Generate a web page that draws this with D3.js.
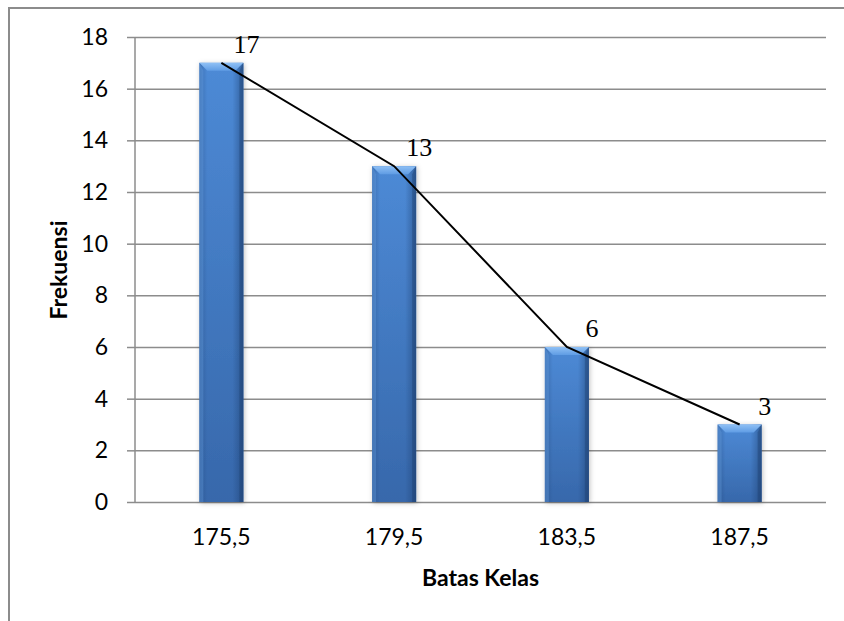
<!DOCTYPE html>
<html>
<head>
<meta charset="utf-8">
<script src="https://cdn.jsdelivr.net/npm/d3@7"></script>
<style>
  html, body { margin: 0; padding: 0; background: #fff; }
  svg { display: block; }
</style>
</head>
<body>
<svg id="chart" width="844" height="621"></svg>
<script>
// Frequency per class boundary
const categories = ["175,5", "179,5", "183,5", "187,5"];
const frequencies = [17, 13, 6, 3];
const yTicks = [0, 2, 4, 6, 8, 10, 12, 14, 16, 18];
const xTitle = "Batas Kelas";
const yTitle = "Frekuensi";

const svg = d3.select("#chart");
const W = 844, H = 621;
const plot = { left: 135, right: 826, top: 37, bottom: 502 };

const x = d3.scaleBand().domain(categories).range([plot.left, plot.right]).paddingInner(0.745).paddingOuter(0.3725);
const y = d3.scaleLinear().domain([0, 18]).range([plot.bottom, plot.top]);

// Outer chart frame
svg.append("rect")
  .attr("x", 9).attr("y", 8).attr("width", 900).attr("height", 700)
  .attr("fill", "#fff").attr("stroke", "#8c8c8c").attr("stroke-width", 2);

const defs = svg.append("defs");
const vGrad = defs.append("linearGradient").attr("id", "barFill").attr("x1", 0).attr("x2", 0).attr("y1", 0).attr("y2", 1);
vGrad.append("stop").attr("offset", "0%").attr("stop-color", "#4d8ad6");
vGrad.append("stop").attr("offset", "100%").attr("stop-color", "#3768ab");
const hGrad = defs.append("linearGradient").attr("id", "barEdge").attr("x1", 0).attr("x2", 1).attr("y1", 0).attr("y2", 0);
hGrad.append("stop").attr("offset", "0%").attr("stop-color", "#1d3f70").attr("stop-opacity", 0.35);
hGrad.append("stop").attr("offset", "18%").attr("stop-color", "#1d3f70").attr("stop-opacity", 0.0);
hGrad.append("stop").attr("offset", "75%").attr("stop-color", "#1d3f70").attr("stop-opacity", 0.0);
hGrad.append("stop").attr("offset", "100%").attr("stop-color", "#1d3f70").attr("stop-opacity", 0.55);
const capGrad = defs.append("linearGradient").attr("id", "capFill").attr("x1", 0).attr("x2", 0).attr("y1", 0).attr("y2", 1);
capGrad.append("stop").attr("offset", "0%").attr("stop-color", "#8fc0f5");
capGrad.append("stop").attr("offset", "100%").attr("stop-color", "#5f9ce4");
const shadow = defs.append("filter").attr("id", "barShadow").attr("x", "-30%").attr("y", "-10%").attr("width", "160%").attr("height", "120%");
shadow.append("feDropShadow").attr("dx", 1).attr("dy", 1).attr("stdDeviation", 2.5).attr("flood-color", "#000").attr("flood-opacity", 0.25);

// Horizontal gridlines
const axisY = d3.axisLeft(y).tickValues(yTicks).tickSize(8).tickPadding(19).tickFormat(d3.format("d"));
const gY = svg.append("g").attr("transform", `translate(${plot.left},0)`).call(axisY);
gY.select(".domain").attr("stroke", "#8c8c8c").attr("stroke-width", 1.5).attr("d", `M0,${plot.top}V${plot.bottom}`);
gY.selectAll(".tick line").attr("stroke", "#8c8c8c").attr("stroke-width", 1.5);
gY.selectAll(".tick").append("line")
  .attr("x1", 0).attr("x2", plot.right - plot.left)
  .attr("stroke", "#8c8c8c").attr("stroke-width", 1.5);
gY.selectAll(".tick text")
  .attr("font-family", "Lato, 'Open Sans', sans-serif").attr("font-size", 23).attr("fill", "#000");

// Category axis
const axisX = d3.axisBottom(x).tickSize(0).tickPadding(27);
const gX = svg.append("g").attr("transform", `translate(0,${plot.bottom})`).call(axisX);
gX.select(".domain").remove();
gX.selectAll(".tick text")
  .attr("font-family", "Lato, 'Open Sans', sans-serif").attr("font-size", 23).attr("fill", "#000");

// Bevelled bars
const bev = 8;
const bars = svg.append("g").selectAll("g").data(frequencies).join("g");
bars.each(function(v, i) {
  const g = d3.select(this);
  const x0 = x(categories[i]), bw = x.bandwidth(), x1 = x0 + bw;
  const yt = y(v), yb = y(0);
  g.append("rect").attr("x", x0).attr("y", yt).attr("width", bw).attr("height", yb - yt)
    .attr("fill", "url(#barFill)").attr("filter", "url(#barShadow)");
  g.append("rect").attr("x", x0).attr("y", yt).attr("width", bw).attr("height", yb - yt)
    .attr("fill", "url(#barEdge)");
  g.append("polygon")
    .attr("points", [[x0, yt], [x1, yt], [x1 - bev, yt + bev], [x0 + bev, yt + bev]].map(p => p.join(",")).join(" "))
    .attr("fill", "url(#capFill)");
  g.append("polygon")
    .attr("points", [[x0, yt], [x0 + bev * 0.5, yt + bev], [x0 + bev * 0.5, yb], [x0, yb]].map(p => p.join(",")).join(" "))
    .attr("fill", "#6aa3e6").attr("opacity", 0.35);
  g.append("polygon")
    .attr("points", [[x1, yt], [x1 - bev * 0.5, yt + bev], [x1 - bev * 0.5, yb], [x1, yb]].map(p => p.join(",")).join(" "))
    .attr("fill", "#1b3a68").attr("opacity", 0.35);
});

// Frequency polygon line
const line = d3.line()
  .x((d, i) => x(categories[i]) + x.bandwidth() / 2)
  .y(d => y(d));
svg.append("path").datum(frequencies)
  .attr("d", line).attr("fill", "none").attr("stroke", "#000").attr("stroke-width", 2);

// Value labels
svg.append("g").selectAll("text").data(frequencies).join("text")
  .attr("x", (d, i) => x(categories[i]) + x.bandwidth() / 2 + 25)
  .attr("y", d => y(d) - 10)
  .attr("text-anchor", "middle")
  .attr("font-family", "'Liberation Serif', 'DejaVu Serif', serif")
  .attr("font-size", 26).attr("fill", "#000")
  .text(d => d);

// Axis titles
svg.append("text")
  .attr("x", (plot.left + plot.right) / 2).attr("y", 586)
  .attr("text-anchor", "middle")
  .attr("font-family", "Lato, 'Open Sans', sans-serif").attr("font-weight", "bold")
  .attr("font-size", 23).attr("fill", "#000")
  .text(xTitle);
svg.append("text")
  .attr("transform", `translate(67,270) rotate(-90)`)
  .attr("text-anchor", "middle")
  .attr("font-family", "Lato, 'Open Sans', sans-serif").attr("font-weight", "bold")
  .attr("font-size", 23).attr("fill", "#000")
  .text(yTitle);
</script>
</body>
</html>
